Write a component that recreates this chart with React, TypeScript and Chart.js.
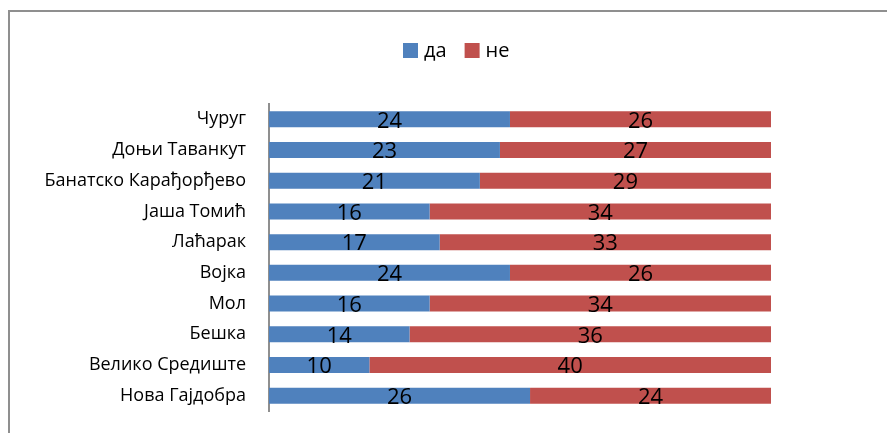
import React, { useEffect, useRef } from "react";
import { Chart, registerables } from "chart.js";

Chart.register(...registerables);

const categories = [
  "Чуруг",
  "Доњи Таванкут",
  "Банатско Карађорђево",
  "Јаша Томић",
  "Лаћарак",
  "Војка",
  "Мол",
  "Бешка",
  "Велико Средиште",
  "Нова Гајдобра",
];
const daValues = [24, 23, 21, 16, 17, 24, 16, 14, 10, 26];
const neValues = [26, 27, 29, 34, 33, 26, 34, 36, 40, 24];
const seriesNames = ["да", "не"];
const seriesColors = ["#4F81BD", "#C0504D"];

const FONT = "'Open Sans', 'Noto Sans', sans-serif";

// Outer gray frame (top and left edges)
const framePlugin = {
  id: "frame",
  beforeDraw(chart: any) {
    const { ctx, width, height } = chart;
    ctx.save();
    ctx.strokeStyle = "#8f8f8f";
    ctx.lineWidth = 2;
    ctx.beginPath();
    ctx.moveTo(9, height + 2);
    ctx.lineTo(9, 11);
    ctx.lineTo(width + 2, 11);
    ctx.stroke();
    ctx.restore();
  },
};

// Legend row with square swatches
const legendPlugin = {
  id: "squareLegend",
  afterDraw(chart: any) {
    const { ctx } = chart;
    ctx.save();
    ctx.font = `20px ${FONT}`;
    ctx.textBaseline = "middle";
    let x = 403;
    const cy = 50;
    chart.data.datasets.forEach((ds: any) => {
      ctx.fillStyle = ds.backgroundColor;
      ctx.fillRect(x, cy - 7, 15, 15);
      x += 15 + 6;
      ctx.fillStyle = "#000";
      ctx.fillText(ds.label, x, cy + 1);
      x += ctx.measureText(ds.label).width + 18;
    });
    ctx.restore();
  },
};

// Values written in the middle of each segment
const valueLabelPlugin = {
  id: "valueLabels",
  afterDatasetsDraw(chart: any) {
    const { ctx } = chart;
    ctx.save();
    ctx.font = `22px ${FONT}`;
    ctx.fillStyle = "#000";
    ctx.textAlign = "center";
    ctx.textBaseline = "middle";
    chart.data.datasets.forEach((ds: any, di: number) => {
      const meta = chart.getDatasetMeta(di);
      meta.data.forEach((bar: any, i: number) => {
        const cx = (bar.x + bar.base) / 2;
        ctx.fillText(String(ds.data[i]), cx, bar.y + 2);
      });
    });
    ctx.restore();
  },
};

export default function App() {
  const canvasRef = useRef<HTMLCanvasElement | null>(null);

  useEffect(() => {
    if (!canvasRef.current) return;
    const chart = new Chart(canvasRef.current, {
      type: "bar",
      data: {
        labels: categories,
        datasets: [
          { label: seriesNames[0], data: daValues, backgroundColor: seriesColors[0] },
          { label: seriesNames[1], data: neValues, backgroundColor: seriesColors[1] },
        ],
      },
      options: {
        indexAxis: "y",
        responsive: false,
        animation: false,
        events: [],
        layout: { padding: { top: 104, bottom: 22, right: 116, left: 0 } },
        datasets: {
          bar: { barPercentage: 0.52, categoryPercentage: 1 },
        },
        plugins: {
          legend: { display: false },
          tooltip: { enabled: false },
        },
        scales: {
          x: {
            stacked: true,
            min: 0,
            max: 50,
            display: false,
          },
          y: {
            stacked: true,
            grid: { display: false, drawTicks: false },
            border: { display: true, color: "#8f8f8f", width: 2 },
            ticks: {
              color: "#000",
              padding: 23,
              font: { family: FONT, size: 18 },
            },
            afterFit(scale: any) {
              scale.width = 269;
              scale.paddingTop = 0;
              scale.paddingBottom = 0;
            },
          },
        },
      },
      plugins: [framePlugin, valueLabelPlugin, legendPlugin],
    });
    return () => chart.destroy();
  }, []);

  return (
    <div style={{ position: "absolute", left: 0, top: 0, width: 887, height: 433, background: "#fff" }}>
      <canvas ref={canvasRef} width={887} height={433} />
    </div>
  );
}
